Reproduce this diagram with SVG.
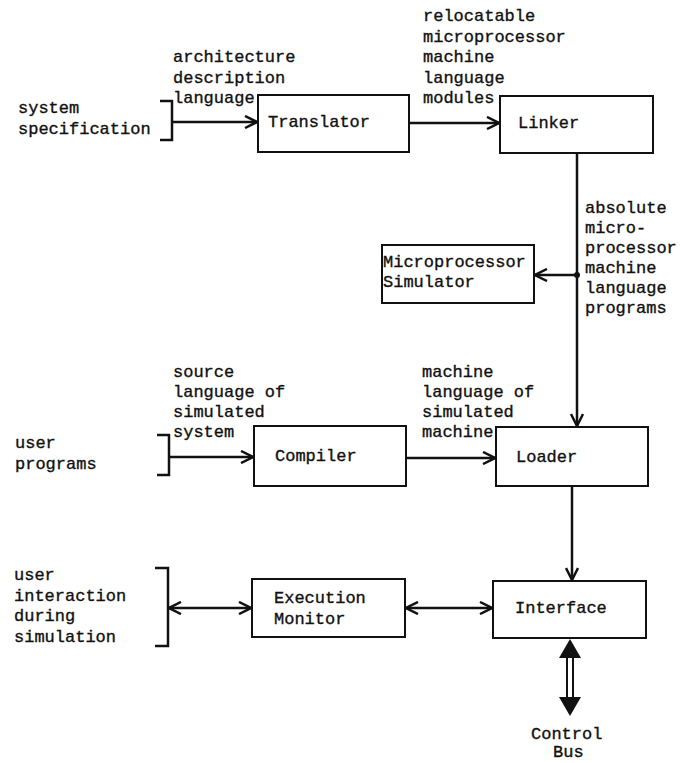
<svg xmlns="http://www.w3.org/2000/svg" width="691" height="763" viewBox="0 0 691 763">
  <style>
    text { font-family: "Liberation Mono", "DejaVu Sans Mono", monospace; font-size: 17px; fill: #111; stroke: #111; stroke-width: 0.35; }
    .box { fill: #fff; stroke: #111; stroke-width: 2; }
    .line { fill: none; stroke: #111; stroke-width: 2.5; }
    .bracket { fill: none; stroke: #111; stroke-width: 2.5; }
  </style>
  <defs>
    <marker id="open" viewBox="0 0 14 14" refX="13" refY="7" markerWidth="14" markerHeight="14" markerUnits="userSpaceOnUse" orient="auto-start-reverse">
      <path d="M1,1 L13,7 L1,13" fill="none" stroke="#111" stroke-width="2.5"/>
    </marker>
  </defs>
  <rect width="691" height="763" fill="#fff"/>

  <!-- input brackets and their labels -->
  <g id="system-spec">
    <path class="bracket" d="M160,101 H172 V140 H160"/>
    <text x="18" y="113">system</text>
    <text x="18" y="134">specification</text>
  </g>
  <g id="user-programs">
    <path class="bracket" d="M157,435 H169 V475 H157"/>
    <text x="15" y="448">user</text>
    <text x="15" y="469">programs</text>
  </g>
  <g id="user-interaction">
    <path class="bracket" d="M155,568 H168 V646 H155"/>
    <text x="14" y="580">user</text>
    <text x="14" y="601">interaction</text>
    <text x="14" y="621">during</text>
    <text x="14" y="642">simulation</text>
  </g>

  <!-- processing blocks -->
  <g id="translator">
    <rect class="box" x="258" y="95" width="151" height="57"/>
    <text x="268" y="127">Translator</text>
  </g>
  <g id="linker">
    <rect class="box" x="500" y="96" width="153" height="57"/>
    <text x="518" y="128">Linker</text>
  </g>
  <g id="simulator">
    <rect class="box" x="382" y="245" width="152" height="58"/>
    <text x="383" y="267">Microprocessor</text>
    <text x="383" y="287">Simulator</text>
  </g>
  <g id="compiler">
    <rect class="box" x="254" y="426" width="152" height="60"/>
    <text x="275" y="461">Compiler</text>
  </g>
  <g id="loader">
    <rect class="box" x="496" y="427" width="152" height="59"/>
    <text x="516" y="462">Loader</text>
  </g>
  <g id="exec-monitor">
    <rect class="box" x="252" y="579" width="153" height="58"/>
    <text x="274" y="603">Execution</text>
    <text x="274" y="624">Monitor</text>
  </g>
  <g id="interface">
    <rect class="box" x="493" y="581" width="153" height="57"/>
    <text x="515" y="613">Interface</text>
  </g>
  <g id="control-bus">
    <text x="531" y="739">Control</text>
    <text x="553" y="757">Bus</text>
  </g>

  <!-- connectors -->
  <g id="connectors">
    <line class="line" x1="172" y1="122" x2="257" y2="122" marker-end="url(#open)"/>
    <line class="line" x1="409" y1="123" x2="499" y2="123" marker-end="url(#open)"/>
    <line class="line" x1="577" y1="153" x2="577" y2="426" marker-end="url(#open)"/>
    <circle cx="577" cy="275" r="3" fill="#111"/>
    <line class="line" x1="577" y1="275" x2="535" y2="275" marker-end="url(#open)"/>
    <line class="line" x1="169" y1="457" x2="253" y2="457" marker-end="url(#open)"/>
    <line class="line" x1="406" y1="458" x2="495" y2="458" marker-end="url(#open)"/>
    <line class="line" x1="572" y1="486" x2="572" y2="580" marker-end="url(#open)"/>
    <line class="line" x1="169" y1="608" x2="251" y2="608" marker-start="url(#open)" marker-end="url(#open)"/>
    <line class="line" x1="406" y1="608" x2="492" y2="608" marker-start="url(#open)" marker-end="url(#open)"/>
    <!-- double-line bus with solid heads -->
    <line x1="567" y1="656" x2="567" y2="699" stroke="#111" stroke-width="2"/>
    <line x1="573" y1="656" x2="573" y2="699" stroke="#111" stroke-width="2"/>
    <path d="M570,639 L581,658 L559,658 Z" fill="#111"/>
    <path d="M570,716 L581,697 L559,697 Z" fill="#111"/>
  </g>

  <!-- connector labels -->
  <g id="labels">
    <text x="173" y="62">architecture</text>
    <text x="173" y="83">description</text>
    <text x="173" y="103">language</text>
    <text x="423" y="21">relocatable</text>
    <text x="423" y="42">microprocessor</text>
    <text x="423" y="62">machine</text>
    <text x="423" y="83">language</text>
    <text x="423" y="103">modules</text>
    <text x="585" y="213">absolute</text>
    <text x="585" y="233">micro-</text>
    <text x="585" y="253">processor</text>
    <text x="585" y="273">machine</text>
    <text x="585" y="293">language</text>
    <text x="585" y="313">programs</text>
    <text x="173" y="377">source</text>
    <text x="173" y="397">language of</text>
    <text x="173" y="417">simulated</text>
    <text x="173" y="437">system</text>
    <text x="422" y="377">machine</text>
    <text x="422" y="397">language of</text>
    <text x="422" y="417">simulated</text>
    <text x="422" y="437">machine</text>
  </g>
</svg>
